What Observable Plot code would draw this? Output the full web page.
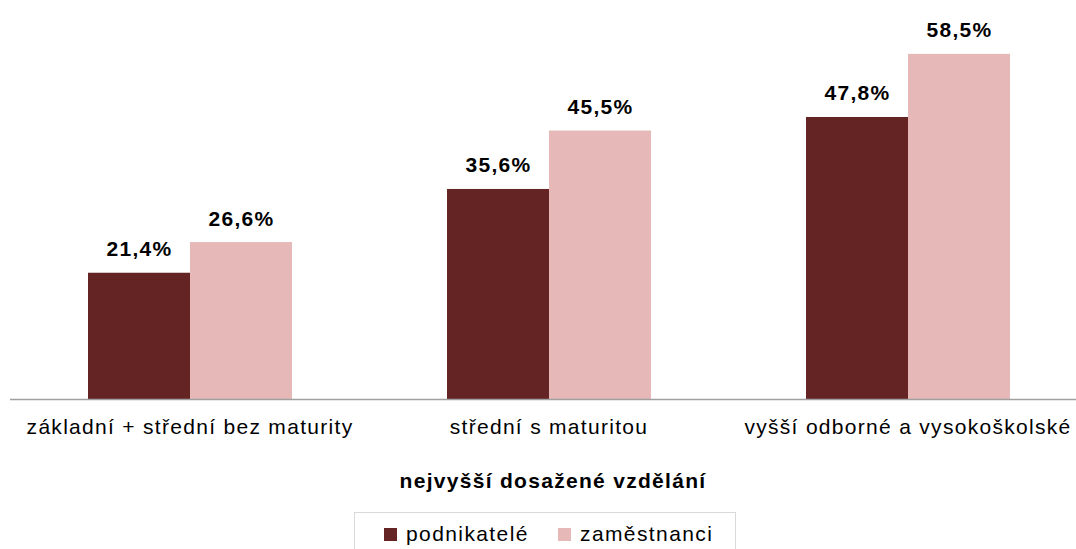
<!DOCTYPE html>
<html>
<head>
<meta charset="utf-8">
<script src="https://cdn.jsdelivr.net/npm/d3@7"></script>
<script src="https://cdn.jsdelivr.net/npm/@observablehq/plot@0.6"></script>
<style>
  html, body { margin: 0; padding: 0; background: #fff; }
  body { width: 1076px; height: 549px; overflow: hidden; font-family: "Liberation Sans", Arial, sans-serif; color: #000; }
  #chart svg text { letter-spacing: 1.3px; }
  #axislabel { position: absolute; left: 0; top: 469px; width: 1106px; text-align: center; font-weight: bold; font-size: 21px; letter-spacing: 1.3px; line-height: 24px; }
  #legend { position: absolute; left: 354px; top: 512px; width: 382px; height: 50px; border: 1px solid #d9d9d9; box-sizing: border-box; font-size: 21px; letter-spacing: 1.4px; }
  .item { position: absolute; top: 9px; height: 24px; line-height: 24px; display: flex; align-items: center; }
  .sw { width: 13px; height: 13px; margin-right: 9px; margin-top: 1px; }
</style>
</head>
<body>
<div id="chart"></div>
<div id="axislabel"></div>
<div id="legend"></div>
<script>
const categories = ["základní + střední bez maturity", "střední s maturitou", "vyšší odborné a vysokoškolské"];
const series = ["podnikatelé", "zaměstnanci"];
const podnikatele = [21.4, 35.6, 47.8];
const zamestnanci = [26.6, 45.5, 58.5];
const colors = ["#632423", "#E6B9B8"];
const axisTitle = "nejvyšší dosažené vzdělání";

const data = categories.flatMap((c, i) => [
  {cat: c, s: series[0], v: podnikatele[i]},
  {cat: c, s: series[1], v: zamestnanci[i]}
]);
const fmt = v => v.toFixed(1).replace(".", ",") + "%";

const chart = Plot.plot({
  width: 1076,
  height: 455,
  marginLeft: 10,
  marginRight: 0,
  marginTop: 45,
  marginBottom: 56,
  style: {fontFamily: "'Liberation Sans', Arial, sans-serif", color: "#000", background: "#fff"},
  fx: {domain: categories, range: [9, 1088], paddingInner: 0, paddingOuter: 0, label: null},
  x: {domain: series, paddingInner: 0, paddingOuter: 0.754, axis: null},
  y: {domain: [0, 60], axis: null},
  color: {domain: series, range: colors},
  marks: [
    Plot.barY(data, {fx: "cat", x: "s", y: "v", fill: "s"}),
    Plot.ruleY([0], {stroke: "#a0a0a0", strokeWidth: 1.5}),
    Plot.text(data, {fx: "cat", x: "s", y: "v", text: d => fmt(d.v), lineAnchor: "bottom", dy: -17, fontWeight: "bold", fontSize: 21, fill: "#000"}),
    Plot.axisFx({anchor: "bottom", tickSize: 0, tickPadding: 20, fontSize: 21, label: null})
  ]
});
document.getElementById("chart").appendChild(chart);
document.getElementById("axislabel").textContent = axisTitle;

const legend = document.getElementById("legend");
const lefts = [29, 203];
series.forEach((s, i) => {
  const it = document.createElement("div");
  it.className = "item";
  it.style.left = lefts[i] + "px";
  const sw = document.createElement("div");
  sw.className = "sw";
  sw.style.background = colors[i];
  const t = document.createElement("span");
  t.textContent = s;
  it.appendChild(sw); it.appendChild(t);
  legend.appendChild(it);
});
</script>
</body>
</html>
